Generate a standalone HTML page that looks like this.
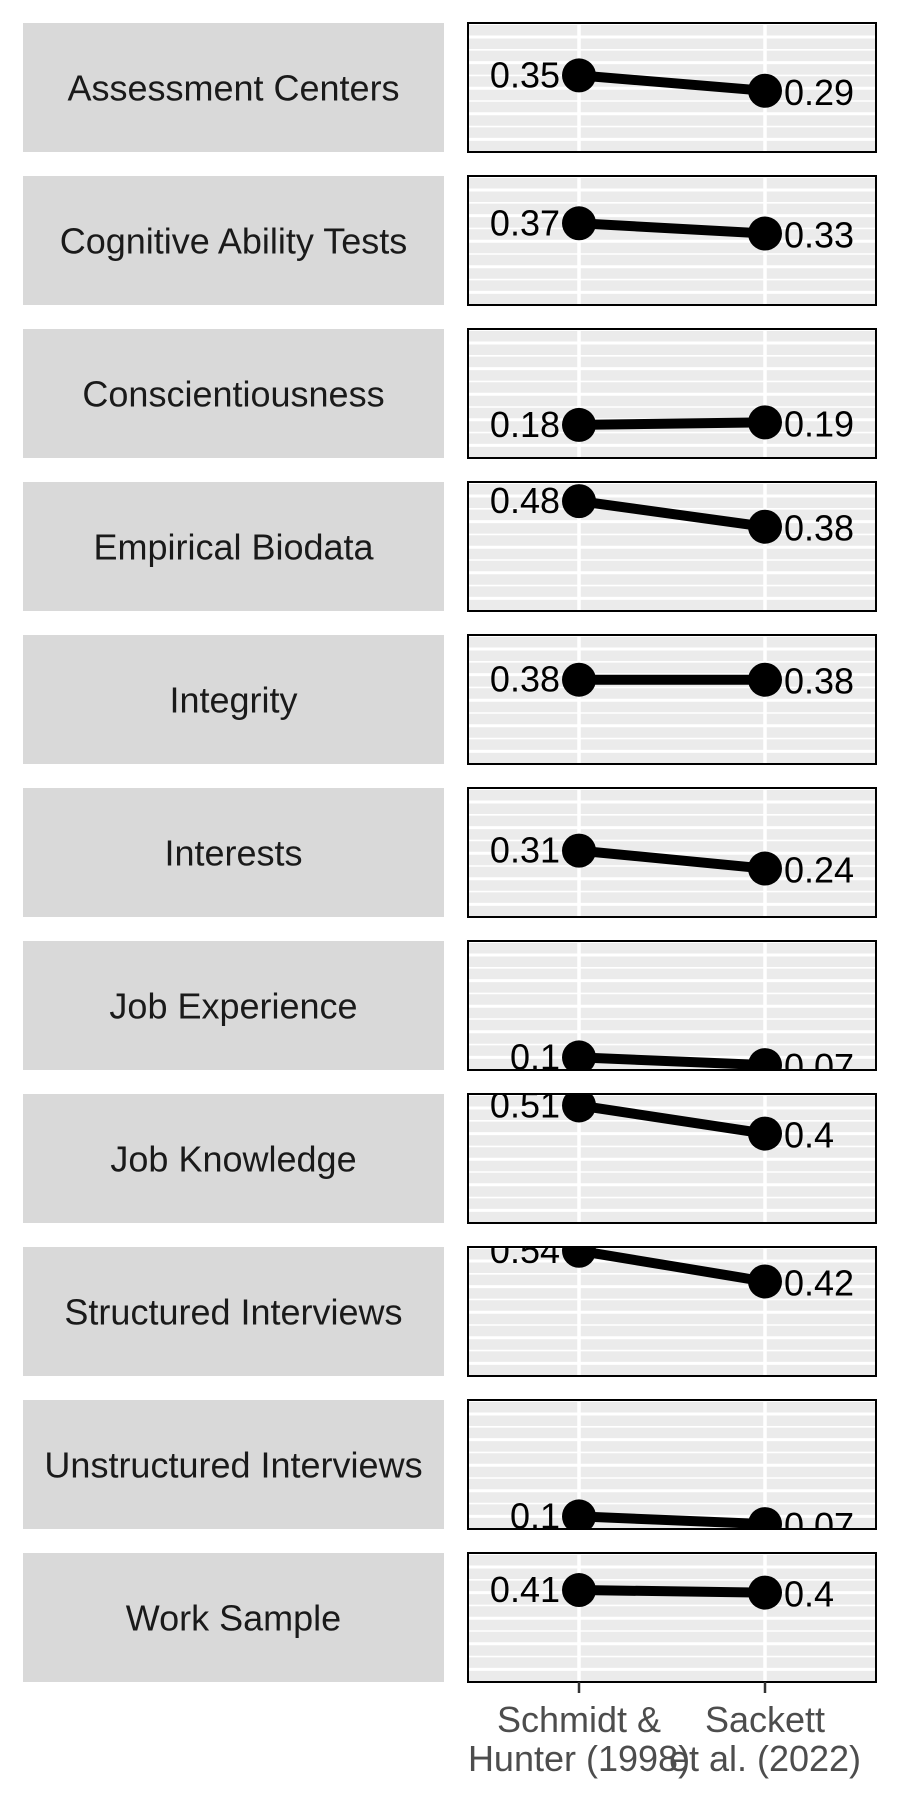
<!DOCTYPE html>
<html><head><meta charset="utf-8"><style>
html,body{margin:0;padding:0;background:#fff}
svg{display:block;font-family:"Liberation Sans",Arial,sans-serif}
</style></head><body>
<svg id="chart" width="900" height="1800" viewBox="0 0 900 1800" xmlns="http://www.w3.org/2000/svg"></svg>
<script>
const categories = ["Assessment Centers","Cognitive Ability Tests","Conscientiousness","Empirical Biodata","Integrity","Interests","Job Experience","Job Knowledge","Structured Interviews","Unstructured Interviews","Work Sample"];
const schmidt = [0.35,0.37,0.18,0.48,0.38,0.31,0.1,0.51,0.54,0.1,0.41];
const sackett = [0.29,0.33,0.19,0.38,0.38,0.24,0.07,0.4,0.42,0.07,0.4];
const xLabels = [["Schmidt &","Hunter (1998)"],["Sackett","et al. (2022)"]];
const gridVals = [0.05,0.1,0.15,0.2,0.25,0.3,0.35,0.4,0.45,0.5,0.55];

const NS="http://www.w3.org/2000/svg";
const svg=document.getElementById('chart');
function mk(tag,attrs,parent){const e=document.createElementNS(NS,tag);for(const k in attrs)e.setAttribute(k,attrs[k]);(parent||svg).appendChild(e);return e;}
const PL=468,PR=876,PH=129,TOP0=23,PITCH=153;
const xPos=[579,765];
const FS=36;
function yScale(v,top){return top+142-256*v;}
const defs=mk('defs',{});
categories.forEach((cat,i)=>{
  const top=TOP0+PITCH*i;
  const strip=mk('rect',{x:23,y:top,width:421,height:PH,fill:'#d9d9d9'});
  
  
  const st=mk('text',{x:233.5,y:top+PH/2+13,'text-anchor':'middle','font-size':FS,fill:'#1a1a1a'});
  st.textContent=cat;
  
  
  const cp=mk('clipPath',{id:'cp'+i},defs);
  mk('rect',{x:PL,y:top,width:PR-PL,height:PH},cp);
  const g=mk('g',{'clip-path':'url(#cp'+i+')'});
  
  
  mk('rect',{x:PL,y:top,width:PR-PL,height:PH,fill:'#ebebeb'},g);
  gridVals.forEach((v,k)=>{
    const y=yScale(v,top);
    mk('line',{x1:PL,x2:PR,y1:y,y2:y,stroke:'#fff','stroke-width':(k%2===1)?3:1.6},g);
  });
  xPos.forEach(x=>mk('line',{x1:x,x2:x,y1:top,y2:top+PH,stroke:'#fff','stroke-width':3.5},g));
  const y1=yScale(schmidt[i],top),y2=yScale(sackett[i],top);
  const ln=mk('line',{x1:xPos[0],y1:y1,x2:xPos[1],y2:y2,stroke:'#000','stroke-width':10},g);
  
  
  [[xPos[0],y1],[xPos[1],y2]].forEach(p=>{
    const c=mk('circle',{cx:p[0],cy:p[1],r:17,fill:'#000'},g);
    
    
  });
  const l1=mk('text',{x:xPos[0]-19,y:y1+12,'text-anchor':'end','font-size':FS,fill:'#000'},g);
  l1.textContent=String(schmidt[i]);
  
  
  const l2=mk('text',{x:xPos[1]+19,y:y2+14,'text-anchor':'start','font-size':FS,fill:'#000'},g);
  l2.textContent=String(sackett[i]);
  
  
  mk('rect',{x:PL,y:top,width:PR-PL,height:PH,fill:'none',stroke:'#000','stroke-width':2});
});
const lastBottom=TOP0+PITCH*10+PH;
xPos.forEach((x,j)=>{
  mk('line',{x1:x,x2:x,y1:lastBottom,y2:lastBottom+11,stroke:'#333','stroke-width':2.5});
  const t=mk('text',{x:x,y:lastBottom+50,'text-anchor':'middle','font-size':FS,fill:'#4d4d4d'});
  
  
  xLabels[j].forEach((s,k)=>{const ts=mk('tspan',{x:x,dy:k?39:0},t);ts.textContent=s;});
});
</script>
</body></html>
